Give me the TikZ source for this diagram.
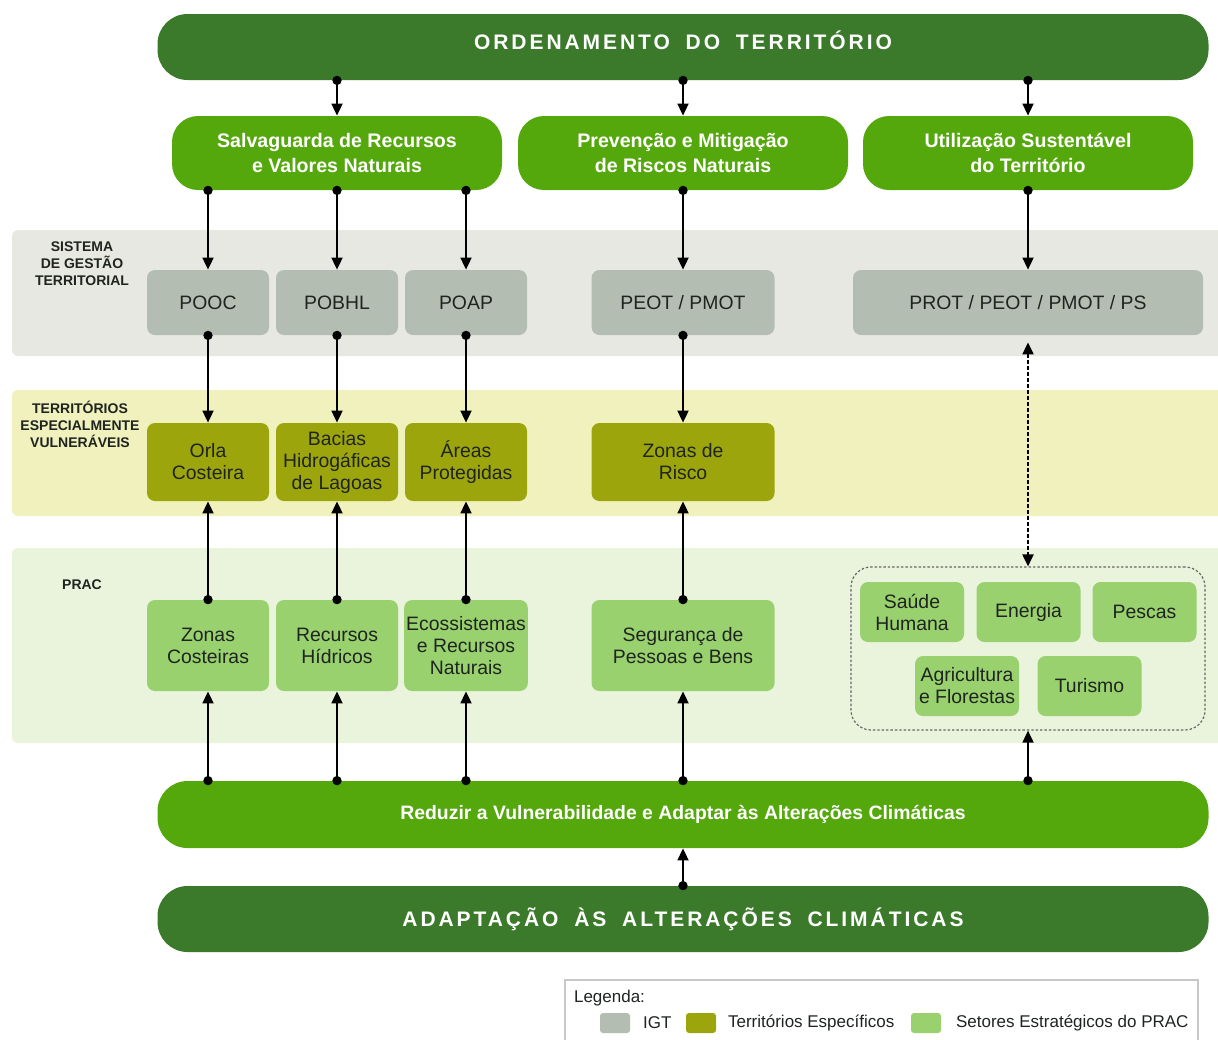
\documentclass[tikz,border=0pt]{standalone}
\usepackage{fontspec}
\setmainfont{Liberation Sans}
\newfontfamily\titlefont[LetterSpace=14,WordSpace=1.8]{Liberation Sans}
\usepackage{xcolor}
\definecolor{DarkGreen}{HTML}{3B7A2B}
\definecolor{LeafGreen}{HTML}{54A80C}
\definecolor{IgtGray}{HTML}{B3BDB2}
\definecolor{Olive}{HTML}{9DA50C}
\definecolor{Sector}{HTML}{99D16E}
\definecolor{BandGray}{HTML}{E8E8E3}
\definecolor{BandYellow}{HTML}{F0F1BC}
\definecolor{BandPrac}{HTML}{EAF3DC}
\definecolor{Ink}{HTML}{1F2420}
\definecolor{Frame}{HTML}{C8C8C8}
\usepackage{tikz}
\usetikzlibrary{arrows.meta,positioning,calc}
\tikzset{
  bar/.style={fill=DarkGreen,rounded corners=15pt,minimum width=525.5pt,minimum height=33pt,
    text=white,font=\fontsize{10.5}{12}\selectfont\titlefont\bfseries},
  goal/.style={fill=LeafGreen,rounded corners=13pt,minimum width=165pt,minimum height=37pt,
    text=white,align=center,font=\fontsize{9.8}{12.5}\selectfont\bfseries},
  box/.style={rounded corners=4pt,minimum height=32.5pt,minimum width=61pt,inner sep=1pt,
    text=Ink,align=center,font=\fontsize{9.7}{11}\selectfont},
  igt/.style={box,fill=IgtGray},
  terr/.style={box,fill=Olive,minimum height=39pt},
  prac/.style={box,fill=Sector,minimum height=45.5pt},
  sector/.style={box,fill=Sector,minimum width=52pt,minimum height=30pt},
  bandlabel/.style={align=center,text=Ink,font=\fontsize{7}{8.5}\selectfont\bfseries},
  legtext/.style={anchor=west,text=Ink,font=\fontsize{8.5}{10}\selectfont},
  swatch/.style={minimum width=15pt,minimum height=10pt,inner sep=0pt,rounded corners=1.5pt},
  link/.style={{Circle[length=4.6pt]}-{Triangle[length=6pt,width=5.5pt]},line width=0.9pt,
    shorten <=-2.3pt},
  dotlink/.style={{Triangle[length=6pt,width=5.5pt]}-{Triangle[length=6pt,width=5.5pt]},
    line width=1pt,dash pattern=on 2pt off 1pt}
}
\begin{document}
\begin{tikzpicture}[x=0.5pt,y=-0.5pt]
  \useasboundingbox (0,0) rectangle (1218,1039);
  \fill[BandGray,rounded corners=3pt] (12,230) rectangle (1240,356);
  \fill[BandYellow,rounded corners=3pt] (12,390) rectangle (1240,516);
  \fill[BandPrac,rounded corners=3pt] (12,548) rectangle (1240,743);

  \node[bandlabel] (lsis) at (82,264) {SISTEMA\\DE GESTÃO\\TERRITORIAL};
  \node[bandlabel] (lter) at (80,424) {TERRITÓRIOS\\ESPECIALMENTE\\VULNERÁVEIS};
  \node[bandlabel] (lprac) at (82,585) {PRAC};

  \node[bar,text height=7.5pt,text depth=5pt] (ordem) at (683,47) {ORDENAMENTO DO TERRITÓRIO};
  \node[goal] (salv) at (337,153) {Salvaguarda de Recursos\\e Valores Naturais};
  \node[goal] (prev) at (683,153) {Prevenção e Mitigação\\de Riscos Naturais};
  \node[goal] (util) at (1028,153) {Utilização Sustentável\\do Território};

  \node[igt] (pooc) at (208,302.5) {POOC};
  \node[igt] (pobhl) at (337,302.5) {POBHL};
  \node[igt] (poap) at (466,302.5) {POAP};
  \node[igt,minimum width=91.5pt] (peot) at (683,302.5) {PEOT / PMOT};
  \node[igt,minimum width=175pt] (prot) at (1028,302.5) {PROT / PEOT / PMOT / PS};

  \node[terr] (orla) at (208,462) {Orla\\Costeira};
  \node[terr] (bacias) at (337,462) {Bacias\\Hidrogáficas\\de Lagoas};
  \node[terr] (areas) at (466,462) {Áreas\\Protegidas};
  \node[terr,minimum width=91.5pt] (risco) at (683,462) {Zonas de\\Risco};

  \node[prac] (zcost) at (208,645.5) {Zonas\\Costeiras};
  \node[prac] (rhid) at (337,645.5) {Recursos\\Hídricos};
  \node[prac] (ecos) at (466,645.5) {Ecossistemas\\e Recursos\\Naturais};
  \node[prac,minimum width=91.5pt] (seg) at (683,645.5) {Segurança de\\Pessoas e Bens};

  \node[draw=black!60,dash pattern=on 1.2pt off 1pt,line width=0.6pt,rounded corners=10pt,
    minimum width=177pt,minimum height=81.5pt] (setores) at (1028,648.5) {};
  \node[sector] (saude) at (912,612) {Saúde\\Humana};
  \node[sector] (energia) at (1028.5,612) {Energia};
  \node[sector] (pescas) at (1144.5,612) {Pescas};
  \node[sector] (agric) at (967,686) {Agricultura\\e Florestas};
  \node[sector] (turismo) at (1089.5,686) {Turismo};

  \node[bar,fill=LeafGreen,minimum height=33.5pt,
    font=\fontsize{9.7}{11}\selectfont\bfseries] (reduzir) at (683,814.5)
    {Reduzir a Vulnerabilidade e Adaptar às Alterações Climáticas};
  \node[bar] (adapt) at (683,919) {ADAPTAÇÃO ÀS ALTERAÇÕES CLIMÁTICAS};

  \draw[link] (salv |- ordem.south) -- (salv.north);
  \draw[link] (prev |- ordem.south) -- (prev.north);
  \draw[link] (util |- ordem.south) -- (util.north);
  \foreach \a/\b in {pooc/orla,pobhl/bacias,poap/areas,peot/risco}{
    \draw[link] (\a |- salv.south) -- (\a.north);
    \draw[link] (\a.south) -- (\b.north);
  }
  \draw[link] (prot |- util.south) -- (prot.north);
  \foreach \a/\b in {zcost/orla,rhid/bacias,ecos/areas,seg/risco}{
    \draw[link] (\a.north) -- (\b.south);
    \draw[link] (\a |- reduzir.north) -- (\a.south);
  }
  \draw[link] (setores |- reduzir.north) -- (setores.south);
  \draw[dotlink,shorten <=3.5pt] (prot.south) -- (setores.north);
  \draw[link] (adapt.north) -- (reduzir.south);

  % legenda
  \draw[Frame,line width=0.6pt] (565,1045) -- (565,980) -- (1198,980) -- (1198,1045);
  \node[legtext] (leg) at (567,998) {Legenda:};
  \node[swatch,fill=IgtGray] (sw1) at (615,1023) {};
  \node[legtext] (lt1) at (636,1023) {IGT};
  \node[swatch,fill=Olive] (sw2) at (701,1023) {};
  \node[legtext] (lt2) at (721,1023) {Territórios Específicos};
  \node[swatch,fill=Sector] (sw3) at (926,1023) {};
  \node[legtext] (lt3) at (949,1023) {Setores Estratégicos do PRAC};
\end{tikzpicture}
\end{document}
